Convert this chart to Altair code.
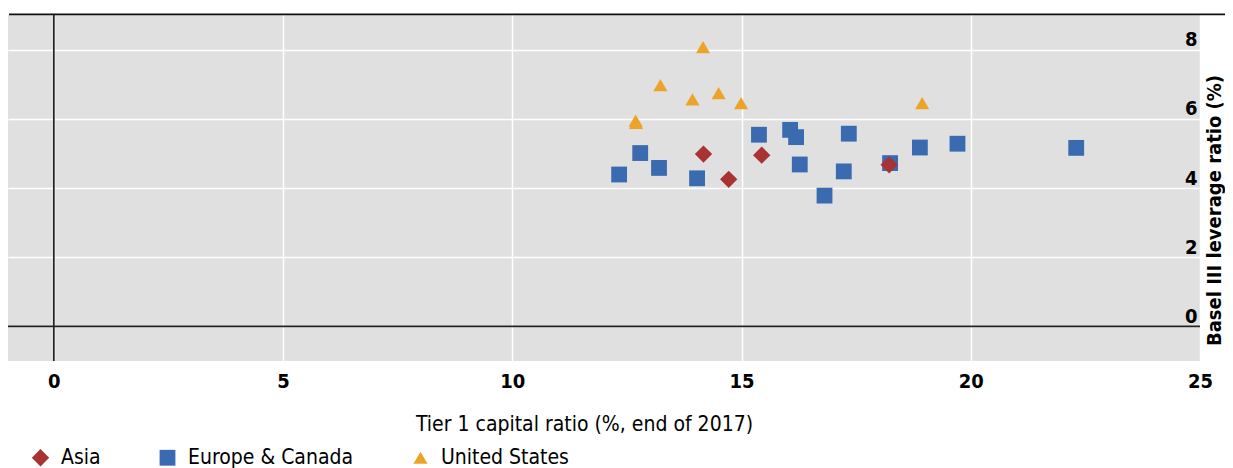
import altair as alt
import pandas as pd

# ---- data ----
asia_x = [14.17, 15.44, 14.72, 18.22]
asia_y = [4.98, 4.95, 4.25, 4.67]

europe_x = [15.38, 16.06, 16.19, 17.34, 12.79, 13.20, 12.33, 14.03, 16.27, 17.23, 16.81, 18.24, 18.89, 19.71, 22.30]
europe_y = [5.54, 5.68, 5.47, 5.57, 5.01, 4.58, 4.39, 4.28, 4.68, 4.48, 3.78, 4.72, 5.17, 5.28, 5.16]

us_x = [14.16, 13.23, 13.93, 14.50, 14.99, 18.94, 12.69, 12.70]
us_y = [8.07, 6.97, 6.56, 6.74, 6.45, 6.45, 5.95, 5.88]

regions = ["Asia", "Europe & Canada", "United States"]
region_colors = ["#a93333", "#3a6ab0", "#eca327"]
region_shapes = ["diamond", "square", "triangle-up"]
region_sizes = [300, 200, 380]
draw_order = [2, 0, 1]  # Asia drawn on top of Europe & Canada

x_ticks = [0, 5, 10, 15, 20, 25]
y_ticks = [0, 2, 4, 6, 8]

x_title = "Tier 1 capital ratio (%, end of 2017)"
y_title = "Basel III leverage ratio (%)"

FONT = "Liberation Sans Narrow, DejaVu Sans Condensed, Liberation Sans, sans-serif"

rows = []
for i, (xs, ys) in enumerate([(asia_x, asia_y), (europe_x, europe_y), (us_x, us_y)]):
    for a, b in zip(xs, ys):
        rows.append({"region": regions[i], "tier1": a, "leverage": b, "z": draw_order[i]})
df = pd.DataFrame(rows)

W, H = 1192, 346

xscale = alt.Scale(domain=[-1, 25], nice=False, zero=False)
yscale = alt.Scale(domain=[-1, 9], nice=False, zero=False)

x_axis = alt.Axis(
    values=x_ticks, title=x_title, grid=True, gridColor="white", gridWidth=1.5,
    domain=False, ticks=False, labelPadding=10, labelFontSize=20, labelFont=FONT,
    labelFontWeight="bold", labelFlush=False, labelColor="black", titleFont=FONT,
    titleFontSize=21, titleFontWeight="normal", titleColor="black", titleX=576, titleY=63,
    titleBaseline="middle", titleAnchor="middle",
)
y_axis = alt.Axis(
    values=y_ticks, title=y_title, orient="right", grid=True, gridColor="white", gridWidth=1.5,
    domain=False, ticks=False, labelAlign="right", labelBaseline="bottom", labelPadding=-3,
    labelFlush=False, labelFontSize=20, labelFont=FONT, labelColor="black", labelFontWeight="bold",
    titleFont=FONT, titleFontSize=20, titleFontWeight="bold", titleColor="black",
    titleAngle=270, titleX=14, titleY=195, titleBaseline="middle", titleAlign="center",
)

points = alt.Chart(df).mark_point(filled=True, opacity=1).encode(
    x=alt.X("tier1:Q", scale=xscale, axis=x_axis),
    y=alt.Y("leverage:Q", scale=yscale, axis=y_axis),
    color=alt.Color(
        "region:N",
        scale=alt.Scale(domain=regions, range=region_colors),
        legend=alt.Legend(
            title=None, orient="none", direction="horizontal", legendX=22, legendY=432,
            labelFont=FONT, labelFontSize=21, labelColor="black", labelLimit=400,
            symbolSize=280, labelOffset=10, columnPadding=56, padding=0,
            symbolStrokeWidth=0,
        ),
    ),
    shape=alt.Shape("region:N", scale=alt.Scale(domain=regions, range=region_shapes)),
    size=alt.Size("region:N", scale=alt.Scale(domain=regions, range=region_sizes), legend=None),
    order=alt.Order("z:Q", sort="ascending"),
)

zero_x = alt.Chart(pd.DataFrame({"v": [0]})).mark_rule(color="#222222", strokeWidth=1.7).encode(
    x=alt.X("v:Q", scale=xscale)
)
zero_y = alt.Chart(pd.DataFrame({"v": [0]})).mark_rule(color="#222222", strokeWidth=1.7).encode(
    y=alt.Y("v:Q", scale=yscale)
)
top_line = alt.Chart(pd.DataFrame({"v": [0]})).mark_rule(color="#111111", strokeWidth=1.7).encode(
    x=alt.value(1), x2=alt.value(1230), y=alt.value(-0.6)
)

chart = alt.layer(zero_x, zero_y, points, top_line).properties(
    width=W, height=H,
    autosize=alt.AutoSizeParams(type="none"),
    padding={"left": 0, "top": 7, "right": 25, "bottom": 115},
).configure(background="white").configure_view(fill="#e0e0e0", stroke=None)

chart.save("out.html", embed_options={"renderer": "svg", "actions": False})
